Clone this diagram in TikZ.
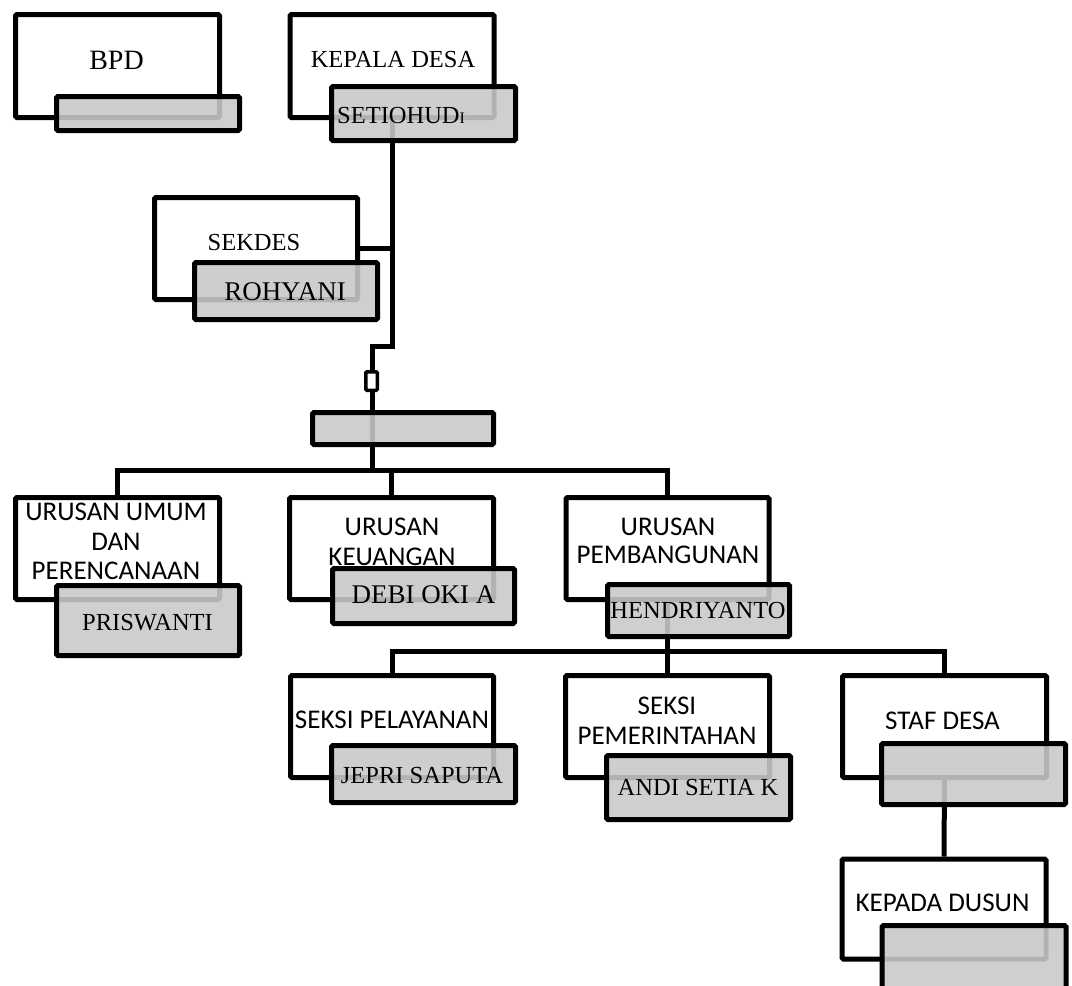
\documentclass[tikz,border=0pt]{standalone}
\usepackage{fontspec}
\setmainfont{Liberation Serif}
\newfontfamily\calfont{Carlito}
\usetikzlibrary{backgrounds}
\definecolor{gfill}{gray}{0.79}
\begin{document}
\begin{tikzpicture}[x=1pt,y=-1pt,
 wbox/.style={draw, line width=5pt, fill=white, rounded corners=1.5pt, inner sep=0pt},
 gbox/.style={draw, line width=5pt, fill=gfill, fill opacity=0.89, draw opacity=1, rounded corners=1.5pt, inner sep=0pt},
 fusebox/.style={draw, line width=3.5pt, fill=white, rounded corners=1pt, inner sep=0pt, minimum width=11.5pt, minimum height=18.5pt},
 conn/.style={line width=5pt},
 serif/.style={font=\fontsize{24.5}{28}\selectfont, inner sep=0pt, text height=16.2pt, text depth=0pt},
 serifL/.style={font=\fontsize{27}{30}\selectfont, inner sep=0pt, text height=17.9pt, text depth=0pt},
 serifXL/.style={font=\fontsize{28}{30}\selectfont, inner sep=0pt, text height=18.5pt, text depth=0pt},
 sans/.style={font=\calfont\fontsize{27}{30}\selectfont, inner sep=0pt, text height=17.4pt, text depth=0pt}]
\useasboundingbox (0,0) rectangle (1072,986);
% white boxes
\node[wbox, minimum width=204pt, minimum height=103pt] (bpd) at (117.5,66) {};
\node[wbox, minimum width=204pt, minimum height=103pt] (kd) at (392,66) {};
\node[wbox, minimum width=203pt, minimum height=102pt] (sek) at (256,248.5) {};
\node[wbox, minimum width=204pt, minimum height=102pt] (uu) at (117.5,548.5) {};
\node[wbox, minimum width=204pt, minimum height=102pt] (uk) at (391.5,548.5) {};
\node[wbox, minimum width=203pt, minimum height=102pt] (up) at (667.5,548.5) {};
\node[wbox, minimum width=203pt, minimum height=102pt] (sp) at (392,726.5) {};
\node[wbox, minimum width=204pt, minimum height=102pt] (spm) at (667.5,726.5) {};
\node[wbox, minimum width=204pt, minimum height=102pt] (sd) at (944.5,726.5) {};
\node[wbox, minimum width=204pt, minimum height=100pt] (kdus) at (944,909) {};
% fuse
\node[fusebox] (fuse) at (371.5,381) {};
% gray boxes
\node[gbox, minimum width=183pt, minimum height=34pt] (bpdg) at (148,113.5) {};
\node[gbox, minimum width=184pt, minimum height=54pt] (kdg) at (423.5,113.5) {};
\node[gbox, minimum width=183pt, minimum height=57pt] (sekg) at (286,291) {};
\node[gbox, minimum width=181pt, minimum height=32pt] (mid) at (403,428.5) {};
\node[gbox, minimum width=183pt, minimum height=70pt] (uug) at (148,620.5) {};
\node[gbox, minimum width=182pt, minimum height=55pt] (ukg) at (423.5,596) {};
\node[gbox, minimum width=182pt, minimum height=52pt] (upg) at (698.5,610.5) {};
\node[gbox, minimum width=184pt, minimum height=57pt] (spg) at (423.5,774) {};
\node[gbox, minimum width=184pt, minimum height=64pt] (spmg) at (698.5,787.5) {};
\node[gbox, minimum width=184pt, minimum height=61pt] (sdg) at (973.5,774) {};
\node[gbox, minimum width=184pt, minimum height=80pt] (kdusg) at (974,965.5) {};
% junction coordinates
\coordinate (jA) at (392,346);
\coordinate (jB) at (372,346);
\coordinate (jC) at (372,470);
\coordinate (b1) at (117,470);
\coordinate (b2) at (653,651);
% connectors
\begin{pgfonlayer}{background}
\draw[conn] (kd.south) -- (jA) -- (jB) -- (jC);
\draw[conn] (sek.east) -- (sek.east -| jA);
\draw[conn] (uu.north) -- (uu.north |- b1) -- (up.north |- b1) -- (up.north);
\draw[conn] (uk.north) -- (uk.north |- b1);
\draw[conn] (up.south) -- (up.south |- b2);
\draw[conn] (sp.north) -- (sp.north |- b2) -- (sd.north |- b2) -- (sd.north);
\draw[conn] (spm.north) -- (spm.north |- b2);
\draw[conn] (sd.south) -- (kdus.north);
\end{pgfonlayer}
% texts
\node[serifXL] (t-bpd) at (116.5,60.5) {BPD};
\node[serif] (t-kd) at (393,59) {KEPALA DESA};
\node[serif, anchor=west] (t-kdn) at (337,115) {SETIOHUD{\fontsize{16}{18}\selectfont I}};
\node[serif] (t-sek) at (254,242.5) {SEKDES};
\node[serifL] (t-sekn) at (285,291.5) {ROHYANI};
\node[sans] (t-uu1) at (116,512) {URUSAN UMUM};
\node[sans] (t-uu2) at (116,541.5) {DAN};
\node[sans] (t-uu3) at (116,570.5) {PERENCANAAN};
\node[serif] (t-uun) at (147.5,622) {PRISWANTI};
\node[sans] (t-uk1) at (392,527) {URUSAN};
\node[sans] (t-uk2) at (392,557) {KEUANGAN};
\node[serifL] (t-ukn) at (423.5,595) {DEBI OKI A};
\node[sans] (t-up1) at (668,527) {URUSAN};
\node[sans] (t-up2) at (668,555) {PEMBANGUNAN};
\node[serif] (t-upn) at (698,610) {HENDRIYANTO};
\node[sans] (t-sp) at (392,720) {SEKSI PELAYANAN};
\node[serif] (t-spn) at (422,775) {JEPRI SAPUTA};
\node[sans] (t-spm1) at (667,706) {SEKSI};
\node[sans] (t-spm2) at (667,736) {PEMERINTAHAN};
\node[serif] (t-spmn) at (698,787) {ANDI SETIA K};
\node[sans] (t-sd) at (942.5,721) {STAF DESA};
\node[sans] (t-kdus) at (942.5,902.5) {KEPADA DUSUN};
\end{tikzpicture}
\end{document}
